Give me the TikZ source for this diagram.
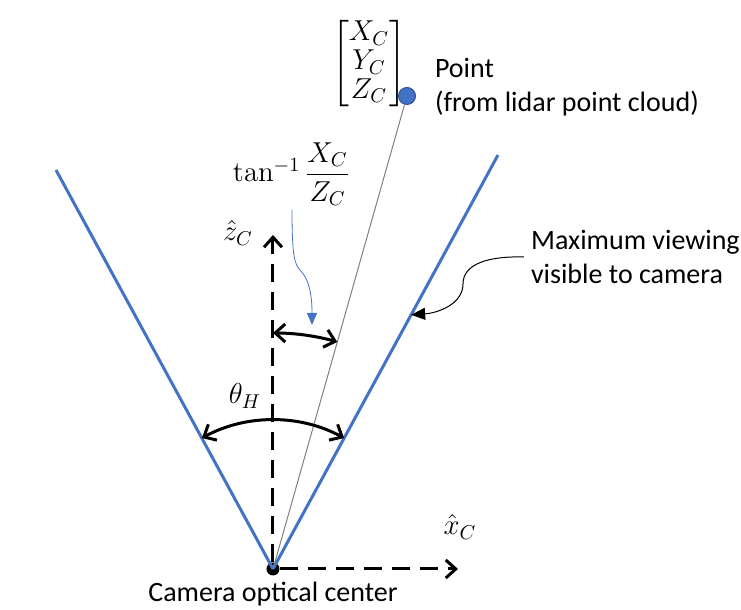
\documentclass[tikz,border=0pt]{standalone}
\usepackage{amsmath}
\usepackage[no-math]{fontspec}
\setmainfont{Carlito}
\usetikzlibrary{arrows.meta,calc}
\definecolor{fovblue}{HTML}{4472C4}
\definecolor{ptedge}{HTML}{2F528F}

\begin{document}
\begin{tikzpicture}[x=0.5pt, y=0.5pt,
font=\fontsize{14}{17}\selectfont,
axis/.style={line width=1.5pt, dash pattern=on 9pt off 5pt, -{Straight Barb[length=5pt,width=9pt]}},
fov/.style={fovblue, line width=1.5pt},
anglearc/.style={line width=1.5pt, {Straight Barb[length=5pt,width=9pt]}-{Straight Barb[length=5pt,width=9pt]}},
callout/.style={line width=0.5pt, -{Triangle[length=7pt,width=6pt]}}
]
\useasboundingbox (-273,-41) rectangle (468,569);

\node[circle, fill, inner sep=0pt, minimum size=6.5pt] (O) at (0,0) {};
\node[circle, fill=fovblue, draw=ptedge, line width=0.5pt, inner sep=0pt, minimum size=8.5pt] (P) at (134,473) {};
\coordinate (zend) at (0,334);
\coordinate (xend) at (185,0);
\coordinate (fovL) at (-217,399);
\coordinate (fovR) at (225,414);

% camera axes and field of view
\draw[axis] (O) -- (zend);
\draw[axis] (O) -- (xend);
\draw[fov] (O.center) -- (fovL);
\draw[fov] (O.center) -- (fovR);
\draw[gray, line width=0.5pt] (O.center) -- (P);

% angles
\draw[anglearc] (90:236) arc[start angle=90, end angle=74.2, radius=236];
\draw[anglearc] (61.5:149) arc[start angle=61.5, end angle=118.5, radius=149];

% labels
\node (zlab) at (-35,336) {$\hat{z}_C$};
\node (xlab) at (187,42) {$\hat{x}_C$};
\node (thlab) at (-28,173) {$\theta_H$};
\node (tanlab) at (18.5,395) {$\tan^{-1}\dfrac{X_C}{Z_C}$};
\node[inner sep=0pt] (vec) at (96,505) {\renewcommand{\arraystretch}{0.85}$\begin{bmatrix} X_C\\ Y_C\\ Z_C \end{bmatrix}$};
\node[anchor=west, align=left] (ptlab) at (155,482) {Point\\(from lidar point cloud)};
\node[anchor=west, align=left] (fovlab) at (251,312) {Maximum viewing\\visible to camera};
\node (Olab) at (0,-25) {Camera optical center};

% callouts
\coordinate (t1) at (19,359);
\coordinate (t2) at (39,244);
\coordinate (fovhit) at ($(O.center)!0.614!(fovR)$);
\draw[fovblue, line width=0.4pt, -{Triangle[length=6pt,width=5pt]}] (t1) .. controls (19,310) and (22,305) .. (27,299) .. controls (36,290) and (39,275) .. (t2);
\draw[callout] (fovlab.west) .. controls (215,313) and (190,305) .. (190,285) .. controls (190,265) and (165,256) .. (fovhit);
\end{tikzpicture}
\end{document}
